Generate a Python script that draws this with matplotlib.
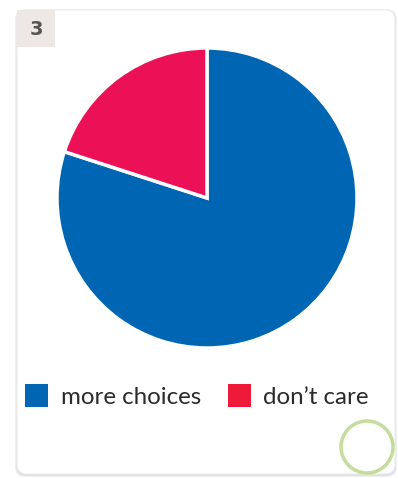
import matplotlib
matplotlib.use("Agg")
import matplotlib.pyplot as plt
from matplotlib.patches import FancyBboxPatch, Rectangle, Circle

labels = ["more choices", "don\u2019t care"]
values = [80, 20]
wedge_colors = ["#0066b3", "#ec1157"]
legend_colors = ["#0066b3", "#ee1a3a"]
badge = "3"

W, H = 398, 478
fig = plt.figure(figsize=(W / 100, H / 100), dpi=100)
ax = fig.add_axes([0, 0, 1, 1])

# pie
ax.pie(values, colors=wedge_colors, startangle=90, counterclock=False,
       center=(207, H - 198), radius=150, frame=True,
       wedgeprops=dict(edgecolor="white", linewidth=2.5, zorder=2))
ax.set_xlim(0, W)
ax.set_ylim(0, H)
ax.set_aspect("equal")
ax.axis("off")

# card with a soft shadow
for i, a in enumerate([0.05, 0.05, 0.06]):
    ax.add_patch(FancyBboxPatch((17 - i, 4 - i - 1), 378 + 2 * i, 464 + 2 * i,
                                boxstyle="round,pad=0,rounding_size=10",
                                fc="#000000", ec="none", alpha=a, zorder=0))
ax.add_patch(FancyBboxPatch((17, 4), 378, 464, boxstyle="round,pad=0,rounding_size=10",
                            fc="white", ec="#eeeeee", lw=0.8, zorder=1))

# number badge
ax.add_patch(Rectangle((17, H - 47), 38, 37, fc="#ede8e3", ec="none", zorder=2))
ax.text(36, H - 29, badge, ha="center", va="center", fontsize=14, fontweight="bold",
        color="#555555", family="DejaVu Sans", zorder=3)

# legend
ax.add_patch(Rectangle((25, H - 407), 23, 23, fc=legend_colors[0], ec="none", zorder=2))
ax.text(61, H - 397, labels[0], ha="left", va="center", fontsize=17.4,
        color="#2b2b2b", family="Lato", zorder=3)
ax.add_patch(Rectangle((228, H - 407), 23, 23, fc=legend_colors[1], ec="none", zorder=2))
ax.text(263, H - 397, labels[1], ha="left", va="center", fontsize=17.4,
        color="#2b2b2b", family="Lato", zorder=3)

# green circle
ax.add_patch(Circle((367, H - 447), 26, fc="none", ec="#c5dd9c", lw=2.5, zorder=3))

fig.savefig("out.png", dpi=100)
